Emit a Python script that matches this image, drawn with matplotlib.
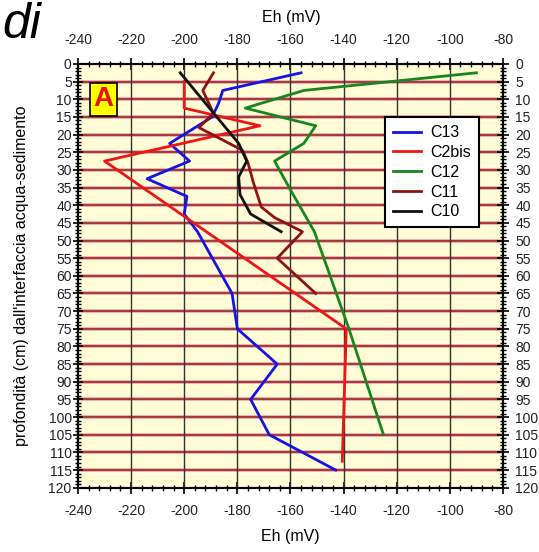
import matplotlib.pyplot as plt
from matplotlib.ticker import MultipleLocator

plt.rcParams['font.family'] = ['Liberation Sans', 'DejaVu Sans']
plt.rcParams['axes.unicode_minus'] = False

# Eh (mV) readings against depth (cm) for each core
c13_eh = [-156, -185.5, -187, -189.5, -205.5, -198, -214, -199, -200, -195, -182, -180, -165, -175, -168, -143]
c13_depth = [2.5, 7.5, 11, 15, 22.5, 27.5, 32.5, 37.5, 42.5, 47.5, 65, 75, 85, 95, 105, 115]

c2bis_eh = [-200, -200, -171.5, -230, -139, -140.5]
c2bis_depth = [5, 12.5, 17.5, 27.5, 75, 112.5]

c12_eh = [-90, -155, -177, -150.5, -155, -166, -160.5, -151, -138, -125]
c12_depth = [2.5, 7.5, 12.5, 17.5, 22.5, 27.5, 35, 47.5, 75, 105]

c11_eh = [-189, -193, -189, -194.5, -178, -176, -174, -171, -166, -155.5, -165, -150.5]
c11_depth = [2.5, 7.5, 14, 18, 24.5, 28, 33.5, 40.5, 43.5, 47.5, 55, 65]

c10_eh = [-201.5, -179.5, -176.5, -179.5, -179, -175, -163.5]
c10_depth = [2.5, 22.5, 27.5, 32, 37, 42.5, 47.5]

fig = plt.figure(figsize=(5.39, 5.52), dpi=100)
ax = fig.add_axes([0.1447, 0.1165, 0.7885, 0.7676])
ax.set_facecolor('#FFFCD6')

ax.set_xlim(-240, -80)
ax.set_ylim(120, 0)

# grid: brownish-red horizontal lines, dark vertical lines on top
for y in range(5, 120, 5):
    ax.axhline(y, color='#E8B0B0', lw=2.8, zorder=1)
    ax.axhline(y, color='#A03030', lw=1.3, zorder=1)
for x in range(-220, -80, 20):
    ax.axvline(x, color='#333333', lw=1.0, zorder=2)

ax.plot(c13_eh, c13_depth, color='#1414E6', lw=2, label='C13', zorder=3)
ax.plot(c2bis_eh, c2bis_depth, color='#F01414', lw=2, label='C2bis', zorder=3)
ax.plot(c12_eh, c12_depth, color='#18861E', lw=2, label='C12', zorder=3)
ax.plot(c11_eh, c11_depth, color='#8E1414', lw=2, label='C11', zorder=3)
ax.plot(c10_eh, c10_depth, color='#111111', lw=2, label='C10', zorder=3)

for s in ax.spines.values():
    s.set_linewidth(1.5)
    s.set_zorder(4)

ax.xaxis.set_major_locator(MultipleLocator(20))
ax.xaxis.set_minor_locator(MultipleLocator(4))
ax.yaxis.set_major_locator(MultipleLocator(5))
ax.yaxis.set_minor_locator(MultipleLocator(1))

ax.tick_params(axis='x', which='major', direction='inout', length=8, width=1.2,
               top=True, labeltop=True, labelsize=10, pad=8, labelcolor='#222222')
ax.tick_params(axis='x', which='minor', direction='inout', length=4, width=1, top=True)
ax.tick_params(axis='y', which='major', direction='inout', length=7, width=1.2,
               labelsize=10, pad=1, labelcolor='#222222')
ax.tick_params(axis='y', which='minor', direction='inout', length=4, width=1)

# right-hand depth labels
ax2 = ax.twinx()
ax2.set_ylim(120, 0)
ax2.yaxis.set_major_locator(MultipleLocator(5))
ax2.yaxis.set_minor_locator(MultipleLocator(1))
ax2.tick_params(axis='y', which='major', direction='inout', length=8, width=1.2,
                labelsize=10, pad=5, labelcolor='#222222')
ax2.tick_params(axis='y', which='minor', direction='inout', length=4, width=1)
for s in ax2.spines.values():
    s.set_linewidth(1.5)

ax.set_xlabel('Eh (mV)', fontsize=11.5, labelpad=8)
ax.set_ylabel("profondità (cm) dall'interfaccia acqua-sedimento", fontsize=11.5, labelpad=14)
fig.text(0.5396, 0.969, 'Eh (mV)', fontsize=11.5, ha='center', va='center')

ax.text(-230.5, 10, 'A', fontsize=20, fontweight='bold', color='#E81010',
        ha='center', va='center', zorder=5,
        bbox=dict(boxstyle='square,pad=0.12', facecolor='#FFFF00', edgecolor='black', lw=1.2))

leg = ax.legend(loc='upper right', bbox_to_anchor=(0.962, 0.893), fontsize=11.5,
                frameon=True, fancybox=False, framealpha=1, edgecolor='black',
                handlelength=1.7, labelspacing=0.3, borderpad=0.5, handletextpad=0.6)
leg.get_frame().set_linewidth(1.5)
leg.set_zorder(6)

fig.text(0.004, 0.955, 'di', fontsize=36, style='italic', ha='left', va='center')

fig.savefig('out.png', dpi=100)
